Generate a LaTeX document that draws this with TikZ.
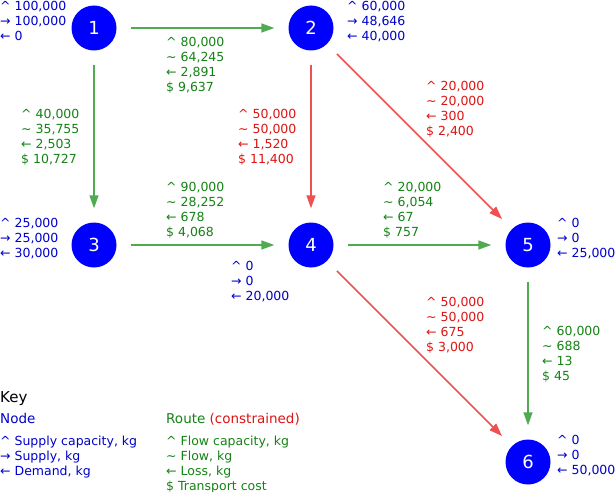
\documentclass[tikz,border=0pt]{standalone}
\usepackage{fontspec}
\setmainfont{DejaVu Sans}
\usepackage{tikz}
\usetikzlibrary{arrows.meta}
\definecolor{siteblue}{RGB}{0,0,255}
\definecolor{labelblue}{RGB}{0,0,205}
\definecolor{okgreen}{RGB}{80,170,80}
\definecolor{limitred}{RGB}{240,80,80}
\definecolor{okgreentext}{RGB}{20,130,20}
\definecolor{limitredtext}{RGB}{220,20,20}
\newcommand{\sitetxt}[3]{\textasciicircum\ #1\\→ #2\\← #3}
\newcommand{\routetxt}[4]{\textasciicircum\ #1\\\textasciitilde\ #2\\← #3\\\$ #4}
\tikzset{
  site/.style      = {circle,fill=siteblue,text=white,minimum size=45pt,inner sep=0pt,
                      font=\fontsize{18}{18}\selectfont},
  infotxt/.style   = {anchor=north west,inner sep=0pt,align=left,
                      font=\fontsize{12.5}{15}\selectfont},
  sitelabel/.style = {infotxt,text=labelblue},
  oklabel/.style   = {infotxt,text=okgreentext},
  redlabel/.style  = {infotxt,text=limitredtext},
  route/.style     = {-{Triangle[length=13pt,width=9pt]},line width=1.6pt,
                      shorten <=14pt,shorten >=14pt},
  okroute/.style   = {route,okgreen},
  redroute/.style  = {route,limitred}
}

\begin{document}
\begin{tikzpicture}[x=1pt,y=-1pt]
  \useasboundingbox (0,0) rectangle (615,492);
  % sites
  \node[site] (n1) at (94,28)   {1};
  \node[site] (n2) at (311,28)  {2};
  \node[site] (n3) at (94,245)  {3};
  \node[site] (n4) at (311,245) {4};
  \node[site] (n5) at (528,245) {5};
  \node[site] (n6) at (528,462) {6};
  \node[sitelabel] (s1) at (0,1.4)     {\sitetxt{100,000}{100,000}{0}};
  \node[sitelabel] (s2) at (347,1.4)   {\sitetxt{60,000}{48,646}{40,000}};
  \node[sitelabel] (s3) at (0,218.4)   {\sitetxt{25,000}{25,000}{30,000}};
  \node[sitelabel] (s4) at (231,261.4) {\sitetxt{0}{0}{20,000}};
  \node[sitelabel] (s5) at (557,218.4) {\sitetxt{0}{0}{25,000}};
  \node[sitelabel] (s6) at (557,435.4) {\sitetxt{0}{0}{50,000}};
  % routes
  \draw[okroute]  (n1) -- (n2);
  \draw[okroute]  (n1) -- (n3);
  \draw[redroute] (n2) -- (n4);
  \draw[redroute] (n2) -- (n5);
  \draw[okroute]  (n3) -- (n4);
  \draw[okroute]  (n4) -- (n5);
  \draw[redroute] (n4) -- (n6);
  \draw[okroute]  (n5) -- (n6);
  \node[oklabel]  (r12) at (166,37.4)  {\routetxt{80,000}{64,245}{2,891}{9,637}};
  \node[oklabel]  (r13) at (21,109.4)  {\routetxt{40,000}{35,755}{2,503}{10,727}};
  \node[redlabel] (r24) at (238,109.4) {\routetxt{50,000}{50,000}{1,520}{11,400}};
  \node[redlabel] (r25) at (426,81.4)  {\routetxt{20,000}{20,000}{300}{2,400}};
  \node[oklabel]  (r34) at (166,182.4) {\routetxt{90,000}{28,252}{678}{4,068}};
  \node[oklabel]  (r45) at (383,182.4) {\routetxt{20,000}{6,054}{67}{757}};
  \node[redlabel] (r46) at (426,297.4) {\routetxt{50,000}{50,000}{675}{3,000}};
  \node[oklabel]  (r56) at (542,326.4) {\routetxt{60,000}{688}{13}{45}};
  % key
  \node[infotxt,font=\fontsize{15}{18}\selectfont] (key) at (0,391.5) {Key};
  \node[sitelabel,font=\fontsize{13.5}{16}\selectfont] (keysite) at (0,413.1) {Node};
  \node[oklabel,font=\fontsize{13.5}{16}\selectfont] (keyroute) at (166,413.1)
    {Route \textcolor{limitredtext}{(constrained)}};
  \node[sitelabel] (keysitetxt) at (0,435.4)
    {\textasciicircum\ Supply capacity, kg\\→ Supply, kg\\← Demand, kg};
  \node[oklabel] (keyroutetxt) at (166,435.4)
    {\textasciicircum\ Flow capacity, kg\\\textasciitilde\ Flow, kg\\← Loss, kg\\\$ Transport cost};
\end{tikzpicture}
\end{document}
